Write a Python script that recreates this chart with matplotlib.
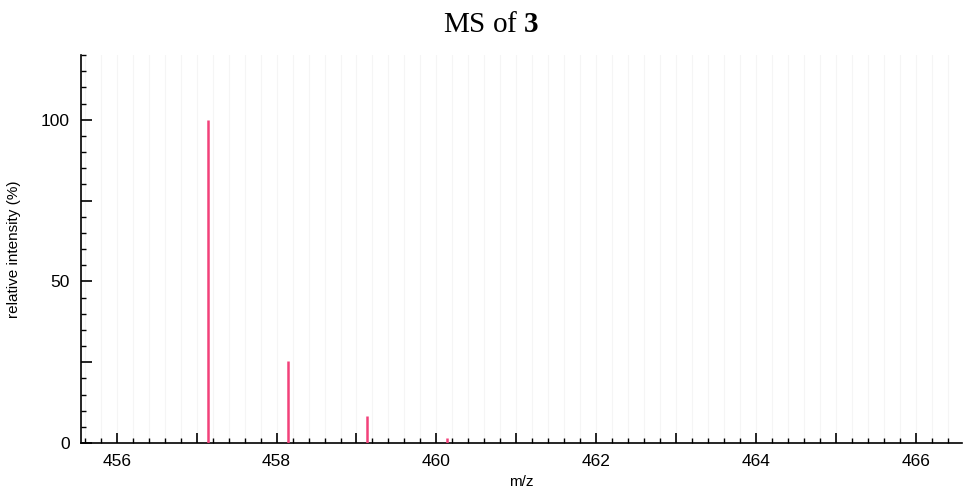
import numpy as np
import matplotlib
matplotlib.use("Agg")
import matplotlib.pyplot as plt
from matplotlib.ticker import MultipleLocator, FuncFormatter

# peaks
mz = [457.14, 458.14, 459.13, 460.13]
intensity = [100.0, 25.3, 8.4, 1.5]

plt.rcParams['font.family'] = ['Liberation Sans', 'DejaVu Sans']
plt.rcParams['mathtext.fontset'] = 'custom'
plt.rcParams['mathtext.rm'] = 'Liberation Serif'
plt.rcParams['mathtext.bf'] = 'Liberation Serif:bold'

fig = plt.figure(figsize=(9.63, 4.88), dpi=100)
ax = fig.add_axes([0.084, 0.092, 0.915, 0.795])

ax.vlines(mz, 0, intensity, color='#f2417a', linewidth=1.8, zorder=3)

ax.set_xlim(455.55, 466.58)
ax.set_ylim(0, 120)

ax.xaxis.set_major_locator(MultipleLocator(1))
ax.xaxis.set_minor_locator(MultipleLocator(0.2))
ax.xaxis.set_major_formatter(FuncFormatter(lambda v, p: f"{v:.0f}" if round(v) % 2 == 0 else ""))
ax.yaxis.set_major_locator(MultipleLocator(25))
ax.yaxis.set_minor_locator(MultipleLocator(5))
ax.yaxis.set_major_formatter(FuncFormatter(lambda v, p: f"{v:.0f}" if round(v) % 50 == 0 else ""))

ax.tick_params(which='major', direction='in', length=7, width=1.2, labelsize=12.5, pad=8)
ax.tick_params(which='minor', direction='in', length=3.5, width=1.0)
ax.tick_params(axis='y', which='major', length=8)

ax.grid(True, axis='x', which='both', color='#f5f5f5', linewidth=0.8, zorder=0)

for s in ['top', 'right']:
    ax.spines[s].set_visible(False)
ax.spines['left'].set_linewidth(1.2)
ax.spines['bottom'].set_linewidth(1.2)

ax.set_xlabel("m/z", fontsize=11, labelpad=4)
ax.set_ylabel("relative intensity (%)", fontsize=11, labelpad=14)

fig.text(0.51, 0.975, r"MS of $\mathbf{3}$", ha='center', va='top', fontsize=21,
         family='Liberation Serif')

fig.savefig("out.png", dpi=100)
